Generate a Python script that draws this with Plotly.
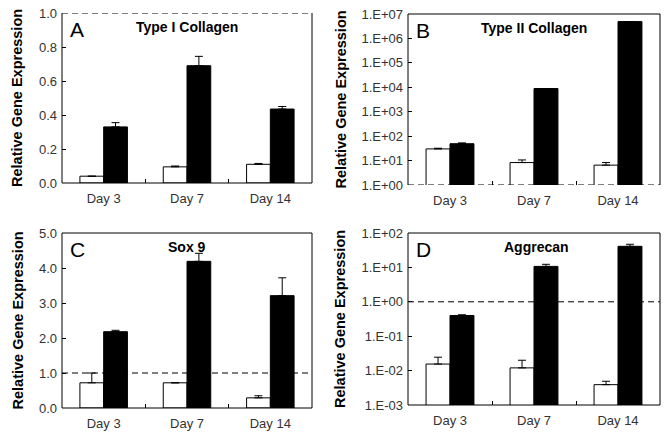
import plotly.graph_objects as go

days = ["Day 3", "Day 7", "Day 14"]

# Panel A - Type I Collagen
a_white = [0.04, 0.095, 0.11]
a_white_err = [0.0, 0.005, 0.005]
a_black = [0.33, 0.69, 0.435]
a_black_err = [0.025, 0.055, 0.015]

# Panel B - Type II Collagen (log)
b_white = [30, 8.3, 6.5]
b_white_err = [2, 2.3, 1.8]
b_black = [49, 8900, 4.9e6]
b_black_err = [4, 0, 0]

# Panel C - Sox 9
c_white = [0.72, 0.72, 0.29]
c_white_err = [0.28, 0.0, 0.06]
c_black = [2.18, 4.19, 3.21]
c_black_err = [0.04, 0.23, 0.51]

# Panel D - Aggrecan (log)
d_white = [0.0155, 0.012, 0.0039]
d_white_err = [0.009, 0.008, 0.001]
d_black = [0.40, 10.7, 41]
d_black_err = [0.02, 1.6, 6]

panel_titles = ["Type I Collagen", "Type II Collagen", "Sox 9", "Aggrecan"]
panel_letters = ["A", "B", "C", "D"]
y_title = "Relative Gene Expression"
log_ticks_b = [0, 1, 2, 3, 4, 5, 6, 7]
log_ticks_d = [-3, -2, -1, 0, 1, 2]

W, H = 669, 439
FONT = "Liberation Sans, Arial, sans-serif"


def px(x):
    return x / W


def py(y):
    return 1 - y / H


# plot-area pixel boxes (left, top, right, bottom)
boxes = [(62, 13, 312, 183), (408, 14, 660, 185), (62, 233, 312, 408), (408, 233, 660, 405)]

data_sets = [
    (a_white, a_white_err, a_black, a_black_err),
    (b_white, b_white_err, b_black, b_black_err),
    (c_white, c_white_err, c_black, c_black_err),
    (d_white, d_white_err, d_black, d_black_err),
]

fig = go.Figure()
layout = dict(
    width=W, height=H, margin=dict(l=0, r=0, t=0, b=0, pad=0, autoexpand=False),
    paper_bgcolor="white", plot_bgcolor="white",
    showlegend=False, barmode="group", bargap=0.43, bargroupgap=0,
    font=dict(family=FONT, size=12, color="#333"),
)
shapes = []
annotations = []

for i, (box, (w, we, b, be)) in enumerate(zip(boxes, data_sets)):
    n = "" if i == 0 else str(i + 1)
    xa, ya = "x" + n, "y" + n
    err_kw = dict(type="data", symmetric=False, color="black", thickness=1, width=4)
    fig.add_trace(go.Bar(x=days, y=w, xaxis=xa, yaxis=ya,
                         marker=dict(color="white", line=dict(color="black", width=1)),
                         error_y=dict(array=we, arrayminus=[0] * 3, **err_kw)))
    fig.add_trace(go.Bar(x=days, y=b, xaxis=xa, yaxis=ya,
                         marker=dict(color="black", line=dict(color="black", width=1)),
                         error_y=dict(array=be, arrayminus=[0] * 3, **err_kw)))
    l, t, r, bt = box
    layout["xaxis" + n] = dict(domain=[px(l), px(r)], anchor=ya, showline=False,
                               ticks="inside", tickson="boundaries", ticklen=4,
                               tickcolor="black", showgrid=False, zeroline=False,
                               automargin=False, ticklabelstandoff=6,
                               tickfont=dict(size=13, color="#333"), fixedrange=True)
    yax = dict(domain=[py(bt), py(t)], anchor=xa, showline=False, ticks="inside",
               ticklen=4, tickcolor="black", showgrid=False, zeroline=False,
               automargin=False, ticklabelstandoff=4,
               tickfont=dict(size=13, color="#333"), fixedrange=True)
    if i == 0:
        yax.update(range=[0, 1.0], tickvals=[0, 0.2, 0.4, 0.6, 0.8, 1.0],
                   ticktext=["0.0", "0.2", "0.4", "0.6", "0.8", "1.0"])
    elif i == 2:
        yax.update(range=[0, 5.0], tickvals=[0, 1, 2, 3, 4, 5],
                   ticktext=["0.0", "1.0", "2.0", "3.0", "4.0", "5.0"])
    elif i == 1:
        yax.update(type="log", range=[0, 7], tickvals=[10 ** k for k in log_ticks_b],
                   ticktext=["1.E+%02d" % k for k in log_ticks_b])
    else:
        yax.update(type="log", range=[-3, 2], tickvals=[10.0 ** k for k in log_ticks_d],
                   ticktext=[("1.E+%02d" % k) if k >= 0 else ("1.E-%02d" % -k) for k in log_ticks_d])
    layout["yaxis" + n] = yax

    xd, yd = xa + " domain", ya + " domain"
    line = dict(color="black", width=1)
    dash = dict(color="black", width=1, dash="6px,4px")
    # frame
    shapes.append(dict(type="line", xref=xd, yref=yd, x0=0, x1=0, y0=0, y1=1, line=line))
    shapes.append(dict(type="line", xref=xd, yref=yd, x0=1, x1=1, y0=0, y1=1, line=line))
    if i != 1:
        shapes.append(dict(type="line", xref=xd, yref=yd, x0=0, x1=1, y0=0, y1=0, line=line))
    if i != 0:
        shapes.append(dict(type="line", xref=xd, yref=yd, x0=0, x1=1, y0=1, y1=1, line=line))
    # reference line at 1
    shapes.append(dict(type="line", xref=xd, yref=ya, x0=0, x1=1, y0=1, y1=1, line=dash, layer="above"))

    annotations.append(dict(text="<b>%s</b>" % panel_titles[i], xref=xd, yref=yd,
                            x=0.5 if i != 3 else 0.51, y=1 - 14 / (bt - t),
                            xanchor="center", yanchor="middle", showarrow=False,
                            font=dict(size=14, color="black", family=FONT)))
    annotations.append(dict(text=panel_letters[i], xref="paper", yref="paper",
                            x=px(l + 6), y=py(t + 16), xanchor="left", yanchor="middle",
                            showarrow=False, font=dict(size=21, color="black", family=FONT)))
    annotations.append(dict(text="<b>%s</b>" % y_title, xref="paper", yref="paper",
                            x=px(l - 45 if i in (0, 2) else l - 68), y=(py(t) + py(bt)) / 2,
                            textangle=-90, xanchor="center", yanchor="middle", showarrow=False,
                            font=dict(size=14.5, color="black", family=FONT)))

layout["shapes"] = shapes
layout["annotations"] = annotations
fig.update_layout(**layout)
fig.write_html("out.html", config={"displayModeBar": False, "staticPlot": True},
               post_script="document.body.style.margin='0';")
